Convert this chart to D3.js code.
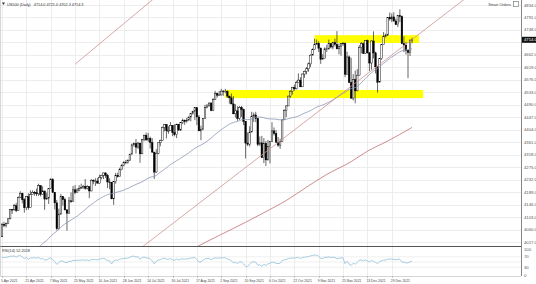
<!DOCTYPE html>
<html><head><meta charset="utf-8">
<script src="https://cdn.jsdelivr.net/npm/d3@7"></script>
<style>html,body{margin:0;padding:0;background:#fff;}svg{display:block;font-family:Arial,"Liberation Sans",sans-serif;}</style>
</head><body>
<svg id="c" width="536" height="284"></svg>
<script>
// ---- data (US500 daily, 5 Apr 2021 .. 12 Jan 2022, weekdays) ----
const priorCloses = [3851,3853,3841,3855,3849,3750,3787,3714,3774,3826,3830,3871,3887,3915,3911,3910,3917,3934,3936,3932,3931,3913,3906,3876,3881,3925,3829,3811,3901,3870,3820,3768,3841,3821,3875,3898,3939,3943,3968,3962,3974,3915,3913,3940,3910,3889,3909,3974,3971,3958,3973,4020,4030];
const opens = [4035,4078,4074,4080,4097,4129,4128,4142,4125,4170,4185,4163,4135,4173,4135,4180,4188,4187,4183,4211,4181,4193,4165,4168,4202,4233,4188,4152,4063,4113,4174,4163,4128,4116,4159,4156,4197,4188,4196,4201,4204,4209,4202,4208,4193,4230,4227,4227,4220,4239,4247,4255,4247,4224,4222,4166,4225,4246,4242,4266,4281,4291,4292,4298,4320,4352,4356,4344,4358,4321,4370,4385,4369,4374,4360,4327,4258,4323,4359,4367,4412,4422,4401,4401,4419,4395,4387,4423,4403,4429,4437,4432,4437,4448,4461,4468,4480,4448,4400,4406,4442,4480,4486,4496,4470,4509,4529,4523,4524,4537,4535,4537,4520,4514,4493,4459,4469,4443,4481,4474,4433,4358,4354,4396,4449,4455,4443,4353,4359,4308,4357,4300,4346,4364,4400,4391,4361,4351,4364,4438,4471,4486,4520,4536,4550,4545,4566,4575,4552,4596,4605,4614,4631,4661,4680,4698,4702,4685,4647,4649,4683,4683,4701,4689,4705,4698,4683,4691,4701,4702,4595,4655,4567,4513,4577,4538,4592,4687,4701,4667,4712,4669,4634,4710,4669,4621,4568,4649,4697,4726,4730,4791,4786,4793,4779,4766,4797,4794,4701,4696,4677,4670,4714];
const highs = [4083,4087,4084,4099,4130,4131,4148,4152,4174,4192,4187,4168,4175,4185,4195,4195,4193,4201,4218,4213,4209,4193,4187,4202,4238,4237,4188,4162,4132,4183,4174,4170,4130,4172,4188,4210,4213,4203,4213,4218,4214,4234,4213,4208,4234,4233,4237,4238,4249,4249,4256,4257,4252,4237,4224,4226,4255,4256,4273,4286,4296,4300,4302,4321,4356,4360,4372,4362,4358,4372,4387,4394,4393,4380,4375,4327,4337,4360,4370,4415,4423,4423,4416,4430,4420,4423,4425,4424,4430,4442,4439,4445,4449,4461,4469,4481,4480,4455,4418,4444,4490,4493,4498,4499,4513,4538,4532,4538,4545,4541,4545,4539,4521,4529,4520,4492,4485,4486,4486,4477,4433,4395,4416,4466,4463,4466,4445,4381,4383,4375,4365,4369,4365,4430,4412,4403,4379,4373,4440,4475,4488,4521,4540,4552,4560,4573,4598,4585,4598,4608,4620,4636,4664,4684,4718,4715,4709,4688,4664,4688,4697,4715,4702,4707,4718,4744,4701,4703,4707,4705,4673,4660,4652,4596,4608,4613,4696,4706,4705,4713,4715,4672,4712,4743,4673,4621,4651,4698,4741,4735,4792,4808,4805,4809,4787,4797,4819,4798,4726,4707,4678,4715,4721];
const lows = [4034,4068,4067,4079,4095,4114,4125,4120,4124,4168,4150,4118,4127,4128,4134,4180,4177,4175,4176,4174,4180,4128,4163,4148,4201,4187,4129,4057,4059,4112,4142,4125,4056,4116,4152,4156,4182,4188,4192,4200,4200,4197,4198,4168,4192,4216,4210,4218,4219,4233,4234,4238,4203,4199,4164,4145,4218,4239,4241,4264,4278,4285,4287,4296,4318,4345,4322,4338,4290,4320,4364,4366,4362,4339,4324,4234,4256,4320,4347,4366,4398,4374,4390,4400,4382,4381,4375,4400,4400,4423,4421,4428,4436,4433,4456,4437,4420,4400,4368,4402,4441,4478,4485,4468,4468,4507,4515,4521,4522,4521,4530,4514,4494,4492,4457,4446,4435,4438,4448,4420,4305,4348,4346,4396,4431,4430,4347,4348,4306,4289,4279,4298,4288,4363,4384,4360,4345,4338,4364,4438,4448,4486,4514,4525,4538,4543,4568,4551,4552,4583,4595,4604,4620,4663,4680,4697,4672,4631,4646,4651,4672,4680,4684,4681,4691,4681,4664,4659,4693,4585,4595,4565,4510,4505,4495,4537,4592,4667,4665,4665,4667,4606,4611,4650,4598,4532,4568,4645,4697,4722,4728,4780,4775,4776,4766,4758,4775,4699,4672,4663,4582,4658,4702];
const closes = [4078,4074,4080,4097,4129,4128,4142,4125,4170,4185,4163,4135,4173,4135,4180,4188,4187,4183,4211,4181,4193,4165,4168,4202,4233,4188,4152,4063,4113,4174,4163,4128,4116,4159,4156,4197,4188,4196,4201,4204,4209,4202,4208,4193,4230,4227,4227,4220,4239,4247,4255,4247,4224,4222,4166,4225,4246,4242,4266,4281,4291,4292,4298,4320,4352,4356,4344,4358,4321,4370,4385,4369,4374,4360,4327,4258,4323,4359,4367,4412,4422,4401,4401,4419,4395,4387,4423,4403,4429,4437,4432,4437,4448,4461,4468,4480,4448,4400,4406,4442,4480,4486,4496,4470,4509,4529,4523,4524,4537,4535,4537,4520,4514,4493,4459,4469,4443,4481,4474,4433,4358,4354,4396,4449,4455,4443,4353,4359,4308,4357,4300,4346,4364,4400,4391,4361,4351,4364,4438,4471,4486,4520,4536,4550,4545,4566,4575,4552,4596,4605,4614,4631,4661,4680,4698,4702,4685,4647,4649,4683,4683,4701,4689,4705,4698,4683,4691,4701,4702,4595,4655,4567,4513,4577,4538,4592,4687,4701,4667,4712,4669,4634,4710,4669,4621,4568,4649,4697,4726,4730,4791,4786,4793,4779,4766,4797,4794,4701,4696,4677,4670,4713,4714];
// 200-period MA (bar index, value)
const ma200Bars = [85,92,100,110,120,129,140,150,160,172,180,190,202];
const ma200Vals = [3955,3985,4015,4050,4085,4118,4160,4206,4250,4294,4330,4365,4412];
// trend lines (bar index, price)
const lineA = [[36,4630],[76,4863]];
const lineB = [[60,3951],[230,4866]];
// supply/demand zones (bar from, bar to, price lo, price hi)
const zoneBars = [[154,205.5],[110,207.5]];
const zonePrices = [[4703,4730],[4513,4541]];
const priceTicks = d3.range(0,20).map(k=>4017+43*k);
const xTickBars = [0,12,24,36,48,60,72,84,96,108,120,132,144,156,168,180,192];
const xTickLabels = ["5 Apr 2021","21 Apr 2021","7 May 2021","25 May 2021","10 Jun 2021","28 Jun 2021","14 Jul 2021","30 Jul 2021","17 Aug 2021","2 Sep 2021","20 Sep 2021","6 Oct 2021","22 Oct 2021","9 Nov 2021","25 Nov 2021","13 Dec 2021","29 Dec 2021"];
const rsiTicks = [100,70,30,0];
const headerText = "US500 (Daily)   4714.0 4721.0 4702.3 4714.3";
const rsiLabel = "RSI(14) 52.2018";

// ---- layout ----
const svg = d3.select("#c");
const W = 536, axisX = 521, mainBottom = 246, rsiTop = 247, rsiBottom = 276;
const x = d3.scaleLinear().domain([0,100]).range([2,205]);
const y = d3.scaleLinear().domain([4017,4834]).range([242,5]);
const yr = d3.scaleLinear().domain([0,100]).range([275,249]);
const grid = "#e9e9e9";

const defs = svg.append("defs");
defs.append("clipPath").attr("id","cm").append("rect").attr("x",0).attr("y",0).attr("width",axisX).attr("height",mainBottom);
defs.append("clipPath").attr("id","cr").append("rect").attr("x",0).attr("y",rsiTop).attr("width",axisX).attr("height",rsiBottom-rsiTop);

// grid
const g = svg.append("g");
g.selectAll(".hg").data(priceTicks).join("line").attr("x1",0).attr("x2",axisX)
  .attr("y1",d=>Math.round(y(d))+0.5).attr("y2",d=>Math.round(y(d))+0.5).attr("stroke",grid).attr("stroke-width",0.8);
g.selectAll(".vg").data(xTickBars).join("line").attr("x1",d=>Math.round(x(d))+0.5).attr("x2",d=>Math.round(x(d))+0.5)
  .attr("y1",0).attr("y2",rsiBottom).attr("stroke",grid).attr("stroke-width",0.8);
g.selectAll(".rg").data([70,50,30]).join("line").attr("x1",0).attr("x2",axisX)
  .attr("y1",d=>yr(d)).attr("y2",d=>yr(d)).attr("stroke",grid).attr("stroke-width",0.7);

// zones
const main = svg.append("g").attr("clip-path","url(#cm)");
main.selectAll(".zone").data(zoneBars).join("rect")
  .attr("x",(d)=>x(d[0])).attr("width",d=>x(d[1])-x(d[0]))
  .attr("y",(d,i)=>y(zonePrices[i][1])).attr("height",(d,i)=>y(zonePrices[i][0])-y(zonePrices[i][1]))
  .attr("fill","#ffff00");

// candles
const idx = d3.range(closes.length);
const cg = main.append("g");
cg.selectAll(".wk").data(idx).join("line")
  .attr("x1",i=>x(i)).attr("x2",i=>x(i)).attr("y1",i=>y(highs[i])).attr("y2",i=>y(lows[i]))
  .attr("stroke","#000").attr("stroke-width",0.6);
cg.selectAll(".bd").data(idx).join("rect")
  .attr("x",i=>x(i)-0.8).attr("width",1.6)
  .attr("y",i=>y(Math.max(opens[i],closes[i])))
  .attr("height",i=>Math.max(0.6,Math.abs(y(opens[i])-y(closes[i]))))
  .attr("fill",i=>closes[i]>=opens[i]?"#fff":"#000")
  .attr("stroke","#000").attr("stroke-width",0.45);

// SMA 50 computed from closes
const allCloses = priorCloses.concat(closes);
const off = priorCloses.length;
const sma50 = idx.map(i=>{const j=i+off; return d3.mean(allCloses.slice(j-49,j+1));});
main.append("path").datum(idx).attr("fill","none").attr("stroke","#8a96b4").attr("stroke-width",0.8)
  .attr("d",d3.line().x(i=>x(i)).y(i=>y(sma50[i])));
// 200 MA
main.append("path").datum(d3.range(ma200Bars.length)).attr("fill","none").attr("stroke","#c07070").attr("stroke-width",0.8)
  .attr("d",d3.line().curve(d3.curveMonotoneX).x(k=>x(ma200Bars[k])).y(k=>y(ma200Vals[k])));
// trend lines
[lineA,lineB].forEach(L=>{
  main.append("line").attr("x1",x(L[0][0])).attr("y1",y(L[0][1])).attr("x2",x(L[1][0])).attr("y2",y(L[1][1]))
    .attr("stroke","#d09090").attr("stroke-width",0.8);
});

// RSI(14), Wilder
const rsi = [];
{
  let ag=0, al=0; const n=14;
  for(let j=1;j<=n;j++){const ch=allCloses[j]-allCloses[j-1]; if(ch>0)ag+=ch; else al-=ch;}
  ag/=n; al/=n;
  const full=[];
  for(let j=n+1;j<allCloses.length;j++){
    const ch=allCloses[j]-allCloses[j-1];
    ag=(ag*(n-1)+Math.max(ch,0))/n; al=(al*(n-1)+Math.max(-ch,0))/n;
    full[j]=al===0?100:100-100/(1+ag/al);
  }
  idx.forEach(i=>rsi.push(full[i+off]));
}
const rg = svg.append("g").attr("clip-path","url(#cr)");
rg.append("path").datum(idx).attr("fill","none").attr("stroke","#9cc6dc").attr("stroke-width",0.9)
  .attr("d",d3.line().x(i=>x(i)).y(i=>yr(rsi[i])));

// panel separators and axes
svg.append("line").attr("x1",0).attr("x2",axisX).attr("y1",mainBottom+0.5).attr("y2",mainBottom+0.5).attr("stroke","#555").attr("stroke-width",1.2);
svg.append("line").attr("x1",0).attr("x2",axisX).attr("y1",rsiBottom+0.5).attr("y2",rsiBottom+0.5).attr("stroke","#bbb").attr("stroke-width",0.6);
svg.append("line").attr("x1",axisX+0.5).attr("x2",axisX+0.5).attr("y1",0).attr("y2",rsiBottom).attr("stroke","#666").attr("stroke-width",0.8);
svg.append("line").attr("x1",0.5).attr("x2",0.5).attr("y1",0).attr("y2",rsiBottom).attr("stroke","#bbb").attr("stroke-width",0.6);

// right price labels
const fs = 4.2;
const lastP = closes[closes.length-1];
svg.selectAll(".pl").data(priceTicks.filter(d=>Math.abs(y(d)-y(lastP))>5)).join("text").attr("x",axisX+3).attr("y",d=>y(d)+1.5)
  .attr("font-size",fs).attr("fill","#555").text(d=>d.toFixed(1));
svg.selectAll(".rl").data(rsiTicks).join("text").attr("x",axisX+3).attr("y",d=>yr(d)+1.5)
  .attr("font-size",fs).attr("fill","#555").text(d=>d);
// price box
svg.append("rect").attr("x",axisX+1).attr("y",y(lastP)-3).attr("width",W-axisX-1).attr("height",6).attr("fill","#111");
svg.append("text").attr("x",axisX+3).attr("y",y(lastP)+1.6).attr("font-size",fs).attr("fill","#fff").text(lastP.toFixed(1));

// bottom date labels
svg.selectAll(".xl").data(xTickBars).join("text").attr("x",(d)=>x(d)-1).attr("y",282)
  .attr("font-size",3.4).attr("fill","#444").text((d,i)=>xTickLabels[i]);
svg.selectAll(".xt").data(xTickBars).join("line").attr("x1",d=>Math.round(x(d))+0.5).attr("x2",d=>Math.round(x(d))+0.5)
  .attr("y1",rsiBottom).attr("y2",rsiBottom+2).attr("stroke","#999").attr("stroke-width",0.5);

// header
svg.append("path").attr("d","M2,2.5 L5,2.5 L3.5,5 Z").attr("fill","#333");
svg.append("text").attr("x",7).attr("y",5.5).attr("font-size",3.8).attr("fill","#333").attr("xml:space","preserve").text(headerText);
svg.append("text").attr("x",511).attr("y",5.5).attr("font-size",3.8).attr("fill","#444").attr("text-anchor","end").text("Smart Orders");
svg.append("rect").attr("x",513.5).attr("y",1.5).attr("width",5).attr("height",5).attr("fill","#fff").attr("stroke","#666").attr("stroke-width",0.6);
svg.append("text").attr("x",2).attr("y",251.5).attr("font-size",3.8).attr("fill","#333").text(rsiLabel);
</script>
</body></html>
